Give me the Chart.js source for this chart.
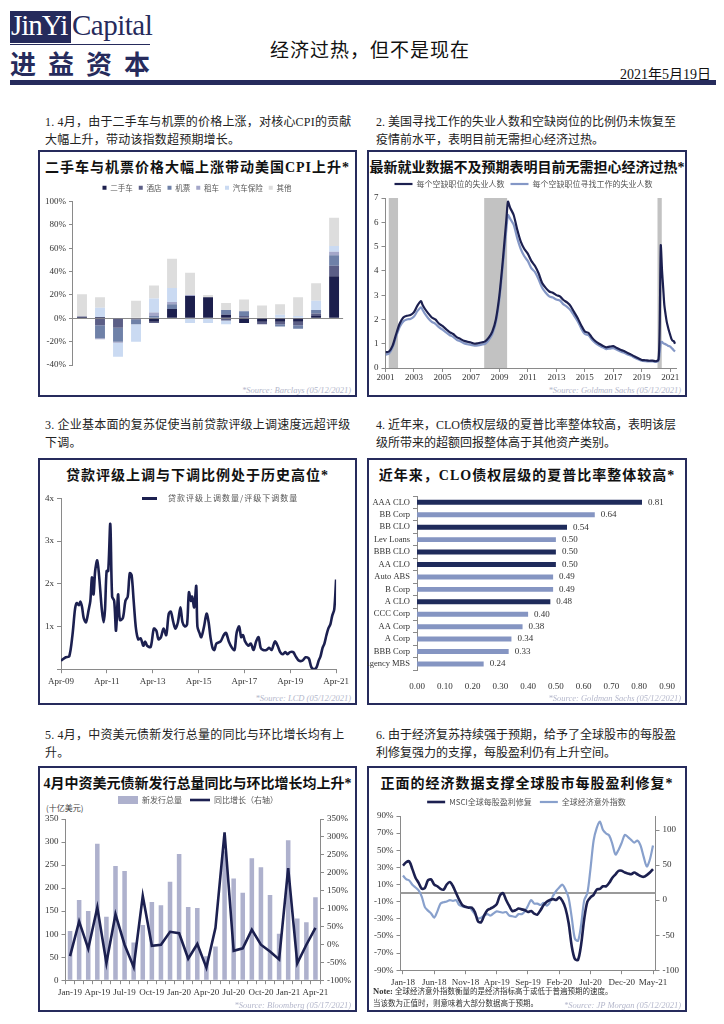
<!DOCTYPE html>
<html lang="zh-CN">
<head>
<meta charset="utf-8">
<script src="https://cdn.jsdelivr.net/npm/chart.js@4.4.0/dist/chart.umd.min.js"></script>
<style>
  body { margin:0; width:724px; height:1024px; background:#fff; position:relative; overflow:hidden;
         font-family:'Liberation Serif','Noto Sans CJK SC',serif; color:#222; }
  .abs { position:absolute; white-space:nowrap; }
  .panel { position:absolute; border:2px solid #262b5c; box-sizing:border-box; background:#fff; }
  .ttl { position:absolute; left:0; right:0; top:4px; text-align:center; font-family:'Liberation Serif','Noto Sans CJK SC',serif;
         font-weight:bold; font-size:14px; color:#111; white-space:nowrap; letter-spacing:1px; }
  .box { position:absolute; left:2px; right:3px; }
  .src { position:absolute; right:4px; bottom:0px; font-style:italic; font-size:8.5px; color:#b4b7cb; white-space:nowrap; }
  .para { position:absolute; font-size:12px; line-height:18px; letter-spacing:0.2px; white-space:nowrap; color:#222; }
  .para.r { letter-spacing:0; }
  .lgd { position:absolute; font-family:'Noto Sans CJK SC'; font-size:8px; color:#555; white-space:nowrap; letter-spacing:1px; }
</style>
</head>
<body>

<!-- 页眉 -->
<div class="abs" style="left:10px;top:11px;width:61px;height:32px;background:#262b5c;"></div>
<div class="abs" style="left:11px;top:9px;font-size:29px;color:#fff;letter-spacing:-1px;">JinYi</div>
<div class="abs" style="left:72px;top:9px;font-size:29px;color:#262b5c;letter-spacing:-0.5px;">Capital</div>
<div class="abs" style="left:10px;top:44px;width:140px;height:1px;background:#262b5c;"></div>
<div class="abs" style="left:10px;top:44px;font-family:'Noto Sans CJK SC';font-size:26px;font-weight:bold;color:#262b5c;letter-spacing:12px;">进益资本</div>
<div class="abs" style="left:270px;top:35px;font-family:'Noto Sans CJK SC';font-size:19px;color:#111;letter-spacing:1px;">经济过热，但不是现在</div>
<div class="abs" style="right:13px;top:63px;font-size:14px;color:#111;">2021年5月19日</div>
<div class="abs" style="left:10px;top:80px;width:706px;height:5px;background:#262b5c;"></div>

<!-- 段落 -->
<div class="para" style="left:45px;top:113px;">1. 4月，由于二手车与机票的价格上涨，对核心CPI的贡献<br>大幅上升，带动该指数超预期增长。</div>
<div class="para r" style="left:376px;top:113px;">2. 美国寻找工作的失业人数和空缺岗位的比例仍未恢复至<br>疫情前水平，表明目前无需担心经济过热。</div>
<div class="para" style="left:45px;top:416px;">3. 企业基本面的复苏促使当前贷款评级上调速度远超评级<br>下调。</div>
<div class="para r" style="left:376px;top:416px;">4. 近年来，CLO债权层级的夏普比率整体较高，表明该层<br>级所带来的超额回报整体高于其他资产类别。</div>
<div class="para" style="left:45px;top:726px;">5. 4月，中资美元债新发行总量的同比与环比增长均有上<br>升。</div>
<div class="para r" style="left:376px;top:726px;">6. 由于经济复苏持续强于预期，给予了全球股市的每股盈<br>利修复强力的支撑，每股盈利仍有上升空间。</div>

<!-- 图1 -->
<div class="panel" style="left:38px;top:150px;width:319px;height:247px;">
  <div class="ttl">二手车与机票价格大幅上涨带动美国CPI上升*</div>
  <div class="box" style="top:26px;height:201px;"><canvas id="c1"></canvas></div>
  <div class="src">*Source: Barclays (05/12/2021)</div>
</div>
<!-- 图2 -->
<div class="panel" style="left:367px;top:150px;width:320px;height:247px;">
  <div class="ttl" style="letter-spacing:0;">最新就业数据不及预期表明目前无需担心经济过热*</div>
  <div class="box" style="top:22px;height:210px;"><canvas id="c2"></canvas></div>
  <div class="src">*Source: Goldman Sachs (05/12/2021)</div>
</div>
<!-- 图3 -->
<div class="panel" style="left:38px;top:458px;width:319px;height:247px;">
  <div class="ttl">贷款评级上调与下调比例处于历史高位*</div>
  <div class="box" style="top:30px;height:200px;"><canvas id="c3"></canvas></div>
  <div class="abs" style="left:102px;top:37px;width:15px;height:3px;background:#1c2050;"></div>
  <div class="lgd" style="left:128px;top:32px;">贷款评级上调数量/评级下调数量</div>
  <div class="src">*Source: LCD (05/12/2021)</div>
</div>
<!-- 图4 -->
<div class="panel" style="left:367px;top:458px;width:320px;height:247px;">
  <div class="ttl">近年来，CLO债权层级的夏普比率整体较高*</div>
  <div class="box" style="top:28px;height:207px;left:-2px;"><canvas id="c4"></canvas></div>
  <div class="src">*Source: Goldman Sachs (05/12/2021)</div>
</div>
<!-- 图5 -->
<div class="panel" style="left:38px;top:766px;width:319px;height:246px;">
  <div class="ttl" style="letter-spacing:0;">4月中资美元债新发行总量同比与环比增长均上升*</div>
  <div class="abs" style="left:6px;top:34px;font-size:8px;color:#444;font-family:'Noto Sans CJK SC';">(十亿美元)</div>
  <div class="box" style="top:20px;height:213px;right:1px;"><canvas id="c5"></canvas></div>
  <div class="src">*Source: Bloomberg (05/17/2021)</div>
</div>
<!-- 图6 -->
<div class="panel" style="left:367px;top:766px;width:320px;height:246px;">
  <div class="ttl">正面的经济数据支撑全球股市每股盈利修复*</div>
  <div class="box" style="top:22px;height:201px;"><canvas id="c6"></canvas></div>
  <div class="abs" style="left:4px;top:217px;font-size:8.5px;color:#333;"><b>Note:</b> <span style="font-family:'Noto Sans CJK SC';font-size:7.5px;">全球经济意外指数衡量的是经济指标高于或低于普遍预期的速度。</span></div>
  <div class="abs" style="left:4px;top:229px;font-size:7.5px;color:#333;font-family:'Noto Sans CJK SC';">当该数为正值时，则意味着大部分数据高于预期。</div>
  <div class="src">*Source: JP Morgan (05/12/2021)</div>
</div>

<script>
// ---------- 图1：CPI 贡献 ----------
const cpiMonths = ['Feb-20','Mar-20','Apr-20','May-20','Jun-20','Jul-20','Aug-20','Sep-20','Oct-20','Nov-20','Dec-20','Jan-21','Feb-21','Mar-21','Apr-21'];
const cpiUsedCars  = [1, 1, 0, 0, -3, 8, 19, 18, 3, -4, -3, -3, -3, 2, 36];
const cpiHotels    = [0.5, -6, -8, -1, -1, 0, 0, 0, -2, 2, -2, -2, -3, 2, 9];
const cpiAirfares  = [0, -11, -12, -4, 2, 4, 0, 0, 4, 4, 0, -2, -3, 3, 9];
const cpiRentals   = [0, -1, -1, 0, 3, 2, 1, 0, 0, 0, 0, 0, 0, 0, 3];
const cpiInsurance = [0, 8, -12, -15, 12, 12, -4, -4, -3, 0, 0, 3, 2, 8, 5];
const cpiOther     = [19, 9, 0, 15, 11, 25, 19, 2, 6, 10, 11, 9, 16, 15, 24];

// ---------- 图2：每个空缺职位的失业人数 ----------
const jobsX = [
  2001.0, 2001.25, 2001.5, 2001.75, 2002.0, 2002.25, 2002.5, 2002.75, 2003.0, 2003.25, 2003.5, 2003.6, 2003.75,
  2004.0, 2004.25, 2004.5, 2004.75, 2005.0, 2005.25, 2005.5, 2005.75, 2006.0, 2006.25, 2006.5, 2006.75,
  2007.0, 2007.25, 2007.5, 2007.75, 2008.0, 2008.25, 2008.5, 2008.75, 2009.0, 2009.25, 2009.5, 2009.6, 2009.75,
  2010.0, 2010.25, 2010.5, 2010.75, 2011.0, 2011.25, 2011.5, 2011.75, 2012.0, 2012.25, 2012.5, 2012.75,
  2013.0, 2013.25, 2013.5, 2013.75, 2014.0, 2014.25, 2014.5, 2014.75, 2015.0, 2015.25, 2015.5, 2015.75,
  2016.0, 2016.25, 2016.5, 2016.75, 2017.0, 2017.25, 2017.5, 2017.75, 2018.0, 2018.25, 2018.5, 2018.75,
  2019.0, 2019.25, 2019.5, 2019.75, 2020.0, 2020.17, 2020.25, 2020.33, 2020.42, 2020.5, 2020.58, 2020.67,
  2020.75, 2020.83, 2020.92, 2021.0, 2021.08, 2021.17, 2021.25, 2021.33
];
const unempPerOpening = [
  0.65, 0.68, 0.92, 1.4, 1.83, 2.08, 2.15, 2.18, 2.3, 2.58, 2.75, 2.6, 2.45,
  2.25, 2.08, 2.0, 1.83, 1.73, 1.6, 1.48, 1.4, 1.27, 1.2, 1.12, 1.08,
  1.05, 1.0, 1.02, 1.05, 1.1, 1.25, 1.5, 2.0, 3.0, 4.5, 6.2, 6.85, 6.6,
  6.3, 5.7, 5.2, 4.9, 4.7, 4.4, 4.2, 3.9, 3.5, 3.3, 3.15, 3.1,
  3.0, 2.95, 2.8, 2.7, 2.55, 2.3, 2.05, 1.75, 1.5, 1.45, 1.25, 1.1,
  1.0, 0.92, 0.85, 0.88, 0.9, 0.82, 0.75, 0.7, 0.62, 0.55, 0.47, 0.4,
  0.33, 0.32, 0.3, 0.3, 0.28, 0.35, 1.5, 5.05, 4.0, 3.3, 2.6, 2.2,
  1.9, 1.7, 1.5, 1.35, 1.2, 1.12, 1.1, 1.0
];
const seekersPerOpening = [
  0.55, 0.6, 0.85, 1.3, 1.7, 1.92, 2.0, 2.02, 2.12, 2.35, 2.5, 2.4, 2.25,
  2.05, 1.9, 1.82, 1.68, 1.58, 1.47, 1.36, 1.28, 1.16, 1.1, 1.02, 0.98,
  0.95, 0.92, 0.93, 0.96, 1.0, 1.15, 1.4, 1.88, 2.85, 4.3, 5.8, 6.3, 6.15,
  5.9, 5.35, 4.9, 4.6, 4.4, 4.1, 3.95, 3.65, 3.3, 3.1, 2.95, 2.9,
  2.82, 2.78, 2.62, 2.52, 2.38, 2.15, 1.92, 1.62, 1.4, 1.35, 1.16, 1.02,
  0.92, 0.85, 0.78, 0.8, 0.82, 0.75, 0.68, 0.63, 0.56, 0.5, 0.42, 0.36,
  0.3, 0.28, 0.27, 0.27, 0.25, 0.3, 0.6, 1.05, 1.08, 1.02, 1.0, 0.98,
  0.95, 0.92, 0.9, 0.88, 0.83, 0.78, 0.72, 0.68
];
const jobsTicks = [2001, 2003, 2005, 2007, 2009, 2011, 2013, 2015, 2017, 2019, 2021];
const recessions = [[2001.23, 2001.88], [2007.93, 2009.54], [2020.1, 2020.4]];

// ---------- 图3：贷款评级上调/下调比例（自 2009 年 4 月起的年数）----------
const loanT = [
  0, 0.21, 0.36, 0.5, 0.61, 0.68, 0.78, 0.85, 0.92, 0.99, 1.09, 1.21, 1.28, 1.35, 1.42, 1.49, 1.58, 1.66, 1.78, 1.86,
  1.92, 1.99, 2.06, 2.15, 2.23, 2.32, 2.4, 2.49, 2.57, 2.7, 2.81, 2.91, 3.0, 3.08, 3.17, 3.27, 3.37, 3.48, 3.59, 3.67,
  3.76, 3.91, 4.05, 4.16, 4.25, 4.36, 4.47, 4.59, 4.7, 4.79, 4.9, 4.99, 5.1, 5.21, 5.3, 5.41, 5.5, 5.58, 5.67, 5.72,
  5.81, 5.9, 5.95, 6.04, 6.12, 6.24, 6.35, 6.44, 6.52, 6.61, 6.69, 6.78, 6.96, 7.1, 7.2, 7.32, 7.46, 7.57, 7.66, 7.77,
  7.86, 7.94, 8.03, 8.17, 8.28, 8.4, 8.51, 8.62, 8.71, 8.82, 8.96, 9.08, 9.19, 9.33, 9.45, 9.56, 9.67, 9.79, 9.87, 9.99,
  10.13, 10.24, 10.38, 10.53, 10.67, 10.81, 10.92, 11.04, 11.15, 11.24, 11.32, 11.41, 11.49, 11.58, 11.66, 11.75, 11.83, 11.92, 12.0
];
const loanRatio = [
  0.2, 0.28, 0.3, 0.8, 1.4, 1.55, 1.5, 1.58, 1.45, 1.2, 1.1, 1.4, 1.6, 2.15, 1.75, 2.3, 2.55, 2.2, 1.4, 1.1,
  1.4, 2.3, 2.3, 3.4, 1.7, 1.6, 0.9, 1.75, 1.15, 1.2, 1.6, 1.7, 2.25, 2.2, 1.6, 0.95, 0.7, 0.72, 0.55, 0.65,
  0.55, 0.52, 0.95, 0.9, 0.7, 0.75, 0.95, 0.8, 1.3, 1.35, 1.1, 0.95, 1.1, 1.45, 1.1, 1.0, 1.05, 1.8, 1.6, 1.7,
  1.45, 1.95, 1.0, 0.85, 0.75, 1.0, 1.3, 1.1, 0.75, 0.5, 0.45, 0.6, 0.65, 0.8, 0.85, 0.65, 0.5, 0.45, 0.85, 1.0,
  0.75, 0.8, 0.65, 0.55, 0.6, 0.45, 0.65, 0.75, 0.5, 0.45, 0.45, 0.5, 0.45, 0.65, 0.55, 0.4, 0.35, 0.4, 0.35, 0.4,
  0.4, 0.3, 0.2, 0.2, 0.28, 0.25, 0.05, 0.0, 0.05, 0.2, 0.3, 0.5, 0.6, 0.8, 0.95, 1.05, 1.25, 1.4, 2.1
];
const loanTicks = [0, 2, 4, 6, 8, 10, 12];
const loanTickLabels = ['Apr-09', 'Apr-11', 'Apr-13', 'Apr-15', 'Apr-17', 'Apr-19', 'Apr-21'];

// ---------- 图4：夏普比率 ----------
const sharpeAssets = ['AAA CLO','BB Corp','BB CLO','Lev Loans','BBB CLO','AA CLO','Auto ABS','B Corp','A CLO','CCC Corp','AA Corp','A Corp','BBB Corp','Agency MBS'];
const sharpeValues = [0.81, 0.64, 0.54, 0.50, 0.50, 0.50, 0.49, 0.49, 0.48, 0.40, 0.38, 0.34, 0.33, 0.24];

// ---------- 图5：中资美元债 ----------
const bondMonths = ['Jan-19','Feb-19','Mar-19','Apr-19','May-19','Jun-19','Jul-19','Aug-19','Sep-19','Oct-19','Nov-19','Dec-19',
  'Jan-20','Feb-20','Mar-20','Apr-20','May-20','Jun-20','Jul-20','Aug-20','Sep-20','Oct-20','Nov-20','Dec-20',
  'Jan-21','Feb-21','Mar-21','Apr-21'];
const bondIssuance = [107, 174, 150, 296, 138, 248, 237, 82, 120, 170, 163, 214, 274, 159, 157, 52, 73, 280, 221, 190, 265, 245, 185, 101, 304, 134, 126, 180];
const bondYoY = [-33, 64, -12, 103, -52, 84, -1, -63, 135, -4, -1, 35, 31, -40, 1, -65, 46, 313, -18, -11, 41, -1, -20, -42, 213, -53, -1, 46];

// ---------- 图6：MSCI 盈利修复与经济意外指数（半月一点，自 2018 年 1 月起）----------
const epsRevision = [
  32, 36, 37, 28, 18, 12, 5, 6, 15, 16,
  10, 8, 5, 4, 10, 13, 8, 0, -8, -14,
  -16, -17, -17, -22, -33, -34, -26, -20, -18, -16,
  -13, -3, 0, -8, -15, -21, -20, -18, -19, -20,
  -22, -21, -24, -25, -20, -14, -10, -8, -7, -8,
  -5, -9, -18, -35, -62, -77, -78, -60, -30, -10,
  -5, -2, 4, 5, 8, 8, 12, 18, 22, 26,
  26, 24, 23, 22, 24, 22, 20, 19, 21, 24,
  28
];
const surpriseIndex = [
  35, 30, 28, 22, 18, 14, 5, -10, -15, -19,
  -25, -16, -5, -3, -2, 0, -1, 0, -7, -9,
  -10, -10, -14, -20, -26, -25, -22, -20, -22, -19,
  -16, -17, -18, -17, -22, -23, -24, -20, -20, -16,
  -8, 0, -5, -5, -7, -4, -8, -3, 6, 13,
  18, 22, 15, 3, -25, -55, -58, -35, 0, 10,
  45, 85, 103, 112, 100, 95, 92, 80, 65, 72,
  82, 93, 90, 86, 82, 85, 78, 62, 48, 58,
  78
];
const epsTicks = [0, 5, 10, 15, 20, 25, 30, 35, 40];
const epsTickLabels = ['Jan-18','Jun-18','Nov-18','Apr-19','Sep-19','Feb-20','Jul-20','Dec-20','May-21'];
const surpriseTicks = [-100, -50, 0, 50, 100];

// ---------- 公共设置 ----------
const NAVY = '#1c2050';
const AXIS = '#8a8a8a';
Chart.defaults.font.family = "'Liberation Serif', 'Noto Sans CJK SC', serif";
Chart.defaults.font.size = 9;
Chart.defaults.color = '#333';
Chart.defaults.animation = false;
Chart.defaults.responsive = true;
Chart.defaults.maintainAspectRatio = false;
Chart.defaults.plugins.tooltip.enabled = false;

const tickGrid = { display: true, drawOnChartArea: false, color: AXIS, tickLength: 4 };
const legendFont = { size: 8, family: "'Noto Sans CJK SC', 'Liberation Serif', sans-serif" };

function toXY(xs, ys) {
  return xs.map((x, i) => ({ x: x, y: ys[i] }));
}

// 图例下方多留一点空白
function legendGap(px) {
  return {
    id: 'legendGap',
    beforeInit(chart) {
      const fit = chart.legend.fit;
      chart.legend.fit = function () {
        fit.bind(chart.legend)();
        this.height += px;
      };
    }
  };
}

// 衰退期阴影
const recessionBands = {
  id: 'recessionBands',
  beforeDatasetsDraw(chart) {
    const { ctx, chartArea: a, scales: { x } } = chart;
    ctx.save();
    ctx.fillStyle = '#c2c2c2';
    recessions.forEach(([s, e]) => {
      const x0 = x.getPixelForValue(s), x1 = x.getPixelForValue(e);
      ctx.fillRect(x0, a.top, x1 - x0, a.bottom - a.top);
    });
    ctx.restore();
  }
};

// 夏普比率数值标签
const barValueLabels = {
  id: 'barValueLabels',
  afterDatasetsDraw(chart) {
    const ctx = chart.ctx;
    const meta = chart.getDatasetMeta(0);
    ctx.save();
    ctx.font = "9px 'Liberation Serif'";
    ctx.fillStyle = '#333';
    ctx.textBaseline = 'middle';
    meta.data.forEach((bar, i) => {
      ctx.fillText(sharpeValues[i].toFixed(2), bar.x + 6, bar.y);
    });
    ctx.restore();
  }
};

// 图6 的 0% 参考线
const zeroLine = {
  id: 'zeroLine',
  beforeDatasetsDraw(chart) {
    const { ctx, chartArea: a, scales: { y } } = chart;
    const py = y.getPixelForValue(0);
    ctx.save();
    ctx.strokeStyle = '#9a9a9a';
    ctx.lineWidth = 2;
    ctx.beginPath();
    ctx.moveTo(a.left, py);
    ctx.lineTo(a.right, py);
    ctx.stroke();
    ctx.restore();
  }
};

// ---------- 图1 ----------
const cpiSeries = [
  ['二手车', cpiUsedCars, '#1c1f4d'],
  ['酒店', cpiHotels, '#5b5e86'],
  ['机票', cpiAirfares, '#6f81a8'],
  ['租车', cpiRentals, '#a4a7c9'],
  ['汽车保险', cpiInsurance, '#cadaf2'],
  ['其他', cpiOther, '#dddddd']
];
new Chart(document.getElementById('c1'), {
  type: 'bar',
  data: {
    labels: cpiMonths,
    datasets: cpiSeries.map(([name, vals, color]) => ({
      label: name, data: vals, backgroundColor: color, categoryPercentage: 0.55, barPercentage: 1
    }))
  },
  options: {
    layout: { padding: { right: 0, bottom: 0 } },
    plugins: {
      legend: { labels: { boxWidth: 4, boxHeight: 4, padding: 6, font: { size: 7.5, family: legendFont.family }, color: '#555' } }
    },
    scales: {
      x: {
        stacked: true,
        afterFit: s => { s.height = 14; },
        grid: { display: false },
        border: { display: false },
        ticks: { autoSkip: false, maxRotation: 0, padding: 5, callback: (v, i) => (i % 2 === 0 ? cpiMonths[i] : '') }
      },
      y: {
        stacked: true, min: -40, max: 100,
        ticks: { stepSize: 20, callback: v => v + '%' },
        grid: { color: c => (c.tick.value === 0 ? AXIS : 'transparent'), tickColor: AXIS, tickLength: 4 },
        border: { color: AXIS }
      }
    }
  }
});

// ---------- 图2 ----------
new Chart(document.getElementById('c2'), {
  type: 'line',
  data: {
    datasets: [
      { label: '每个空缺职位的失业人数', data: toXY(jobsX, unempPerOpening), borderColor: NAVY, borderWidth: 2.2, pointRadius: 0, tension: 0.25, pointStyle: 'line' },
      { label: '每个空缺职位寻找工作的失业人数', data: toXY(jobsX, seekersPerOpening), borderColor: '#8497c6', borderWidth: 2.2, pointRadius: 0, tension: 0.25, pointStyle: 'line' }
    ]
  },
  options: {
    layout: { padding: { right: 6 } },
    plugins: {
      legend: { labels: { usePointStyle: true, pointStyleWidth: 18, padding: 6, font: legendFont, color: '#555' } }
    },
    scales: {
      x: {
        type: 'linear', min: 2001, max: 2021.4,
        afterFit: s => { s.height = 16; },
        afterBuildTicks: s => { s.ticks = jobsTicks.map(v => ({ value: v })); },
        ticks: { autoSkip: false, maxRotation: 0, padding: 0, callback: v => String(v) },
        grid: tickGrid, border: { color: AXIS }
      },
      y: {
        min: 0, max: 7, ticks: { stepSize: 1 },
        grid: tickGrid, border: { color: AXIS }
      }
    }
  },
  plugins: [recessionBands]
});

// ---------- 图3（图例用 HTML 画在绘图区内）----------
new Chart(document.getElementById('c3'), {
  type: 'line',
  data: {
    datasets: [
      { label: '贷款评级上调数量/评级下调数量', data: toXY(loanT, loanRatio), borderColor: NAVY, borderWidth: 2.6, pointRadius: 0, tension: 0.3 }
    ]
  },
  options: {
    layout: { padding: { right: 8 } },
    plugins: { legend: { display: false } },
    scales: {
      x: {
        type: 'linear', min: 0, max: 12,
        afterBuildTicks: s => { s.ticks = loanTicks.map(v => ({ value: v })); },
        ticks: { autoSkip: false, maxRotation: 0, callback: (v, i) => loanTickLabels[i] },
        grid: tickGrid, border: { color: AXIS }
      },
      y: {
        min: 0, max: 4,
        ticks: { stepSize: 1, callback: v => (v === 0 ? '' : v + 'x') },
        grid: tickGrid, border: { color: AXIS }
      }
    }
  }
});

// ---------- 图4 ----------
new Chart(document.getElementById('c4'), {
  type: 'bar',
  data: {
    labels: sharpeAssets,
    datasets: [{
      data: sharpeValues,
      backgroundColor: sharpeAssets.map(n => (n.indexOf('CLO') >= 0 ? '#1f2b5b' : '#8595c2')),
      barPercentage: 0.4, categoryPercentage: 1
    }]
  },
  options: {
    indexAxis: 'y',
    layout: { padding: { right: 15, left: 0 } },
    plugins: { legend: { display: false } },
    scales: {
      x: {
        min: 0, max: 0.9,
        ticks: { stepSize: 0.1, callback: v => v.toFixed(2) },
        grid: { display: false }, border: { display: false }
      },
      y: {
        afterFit: s => { s.width = 50; },
        ticks: { autoSkip: false, padding: 3, font: { size: 8.5 } },
        grid: tickGrid, border: { color: AXIS }
      }
    }
  },
  plugins: [barValueLabels]
});

// ---------- 图5 ----------
new Chart(document.getElementById('c5'), {
  data: {
    labels: bondMonths,
    datasets: [
      { type: 'line', label: '同比增长（右轴）', data: bondYoY, yAxisID: 'y1', borderColor: NAVY, borderWidth: 2.6, pointRadius: 0, tension: 0, pointStyle: 'line', order: 0 },
      { type: 'bar', label: '新发行总量', data: bondIssuance, yAxisID: 'y', backgroundColor: '#aeb1cd', categoryPercentage: 0.5, barPercentage: 1, pointStyle: 'rect', order: 1 }
    ]
  },
  options: {
    layout: { padding: { right: 0 } },
    plugins: {
      legend: {
        reverse: true,
        labels: { usePointStyle: true, pointStyleWidth: 20, padding: 8, font: legendFont, color: '#555' }
      }
    },
    scales: {
      x: {
        grid: tickGrid, border: { color: AXIS },
        ticks: { autoSkip: false, maxRotation: 0, callback: (v, i) => (i % 3 === 0 ? bondMonths[i] : '') }
      },
      y: {
        position: 'left', min: 0, max: 350,
        ticks: { stepSize: 50 },
        grid: tickGrid, border: { color: AXIS }
      },
      y1: {
        position: 'right', min: -100, max: 350,
        ticks: { stepSize: 50, callback: v => v + '%' },
        grid: tickGrid, border: { color: AXIS }
      }
    }
  },
  plugins: [legendGap(5)]
});

// ---------- 图6 ----------
new Chart(document.getElementById('c6'), {
  type: 'line',
  data: {
    datasets: [
      { label: 'MSCI全球每股盈利修复', data: epsRevision.map((v, i) => ({ x: i / 2, y: v })), yAxisID: 'y', borderColor: NAVY, borderWidth: 2.6, pointRadius: 0, tension: 0.3, pointStyle: 'line' },
      { label: '全球经济意外指数', data: surpriseIndex.map((v, i) => ({ x: i / 2, y: v })), yAxisID: 'y1', borderColor: '#88a0cc', borderWidth: 2.2, pointRadius: 0, tension: 0.3, pointStyle: 'line' }
    ]
  },
  options: {
    plugins: {
      legend: { labels: { usePointStyle: true, pointStyleWidth: 18, padding: 8, font: legendFont, color: '#555' } }
    },
    scales: {
      x: {
        type: 'linear', min: -0.4, max: 40.4,
        afterBuildTicks: s => { s.ticks = epsTicks.map(v => ({ value: v })); },
        ticks: { autoSkip: false, maxRotation: 0, callback: (v, i) => epsTickLabels[i] },
        grid: tickGrid, border: { color: AXIS }
      },
      y: {
        position: 'left', min: -90, max: 90,
        ticks: { stepSize: 20, callback: v => v + '%' },
        grid: tickGrid, border: { color: AXIS }
      },
      y1: {
        position: 'right', min: -100, max: 120,
        afterBuildTicks: s => { s.ticks = surpriseTicks.map(v => ({ value: v })); },
        grid: tickGrid, border: { color: AXIS }
      }
    }
  },
  plugins: [zeroLine]
});
</script>
</body>
</html>
